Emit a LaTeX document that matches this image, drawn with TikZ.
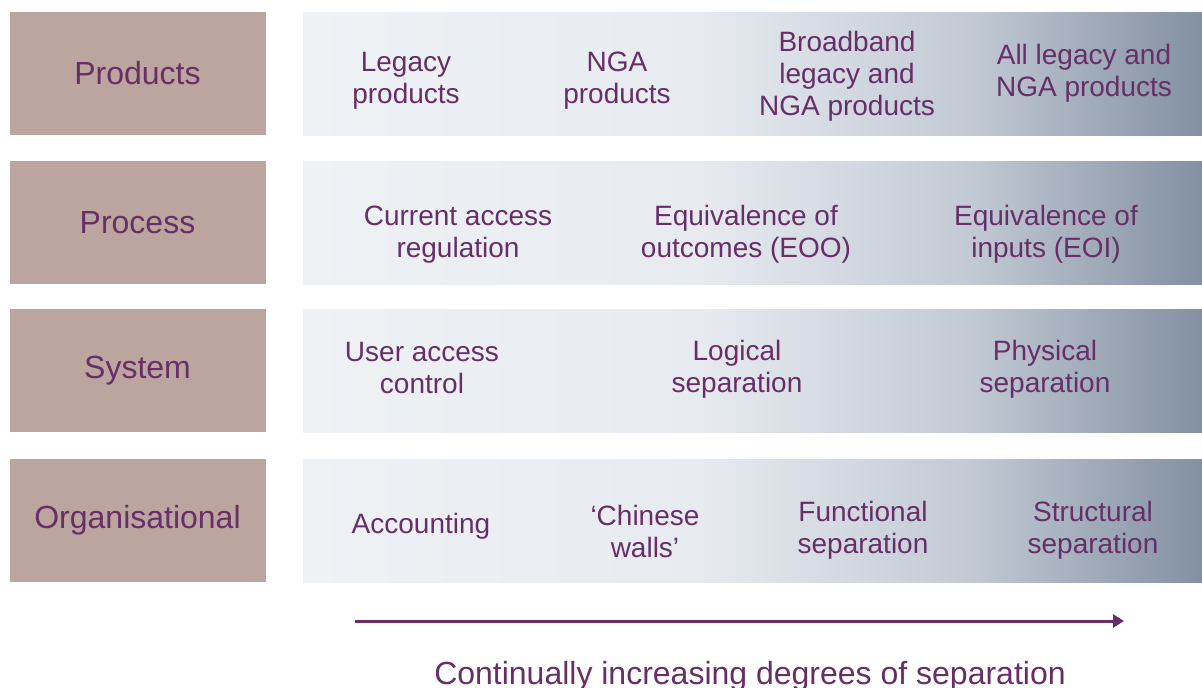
\documentclass[tikz,border=0pt]{standalone}
\usepackage{fontspec}
\setmainfont{Liberation Sans}
\usetikzlibrary{calc,arrows.meta}
\definecolor{sepPurple}{HTML}{672E68}
\definecolor{labFill}{HTML}{BBA59E}
\definecolor{bandA}{HTML}{EEF2F5}
\definecolor{bandB}{HTML}{E7EBF0}
\definecolor{bandC}{HTML}{C3CAD5}
\definecolor{bandD}{HTML}{8290A2}
\pgfdeclarehorizontalshading{bandshade}{100bp}{color(0bp)=(bandA); color(25bp)=(bandA);
  color(47bp)=(bandB); color(62bp)=(bandC); color(75bp)=(bandD); color(100bp)=(bandD)}
\newcommand{\seprow}[3]{
  \node[labbox] (lab#1) at (137.5,#2+61.5) {#3};% Draw the row label
  \node[bandbox] (band#1) at (752.5,#2+61.5) {};% Draw the shaded band
}
\tikzset{
  labbox/.style={fill=labFill, text=sepPurple, minimum width=256pt, minimum height=123pt,
    inner sep=0pt, font=\fontsize{32}{36}\selectfont},
  bandbox/.style={shading=bandshade, minimum width=899pt, minimum height=123pt, inner sep=0pt},
  item/.style={text=sepPurple, align=center, inner sep=0pt, font=\fontsize{28}{32}\selectfont},
  sep arrow/.style={sepPurple, line width=3pt, -{Triangle[length=11pt,width=13pt]}}
}

\begin{document}
\begin{tikzpicture}[x=1pt,y=-1pt]
  \useasboundingbox (0,0) rectangle (1202,688);

  \seprow{1}{12}{Products}
  \seprow{2}{161}{Process}
  \seprow{3}{309}{System}
  \seprow{4}{459}{Organisational}

  % Products
  \foreach \x/\y/\t [count=\i] in {406/81/{Legacy\\products}, 617/81/{NGA\\products},
      847/76/{Broadband\\legacy and\\NGA products}, 1084/73/{All legacy and\\NGA products}}
    \node[item] (prod\i) at (\x,\y) {\t};

  % Process
  \foreach \x/\y/\t [count=\i] in {458/235/{Current access\\regulation},
      746/234/{Equivalence of\\outcomes (EOO)}, 1046/234/{Equivalence of\\inputs (EOI)}}
    \node[item] (proc\i) at (\x,\y) {\t};

  % System
  \foreach \x/\y/\t [count=\i] in {422/368/{User access\\control}, 737/369/{Logical\\separation},
      1045/369/{Physical\\separation}}
    \node[item] (sys\i) at (\x,\y) {\t};

  % Organisational
  \foreach \x/\y/\t [count=\i] in {421/526/{Accounting}, 645/531/{‘Chinese\\walls’},
      863/530/{Functional\\separation}, 1093/530/{Structural\\separation}}
    \node[item] (org\i) at (\x,\y) {\t};

  \coordinate (arrstart) at (355,621);
  \coordinate (arrend) at (1124,621);
  \draw[sep arrow] (arrstart) -- (arrend);

  \node[text=sepPurple, anchor=base, inner sep=0pt, font=\fontsize{32}{36}\selectfont]
    (caption) at (750,684) {Continually increasing degrees of separation};
\end{tikzpicture}
\end{document}
